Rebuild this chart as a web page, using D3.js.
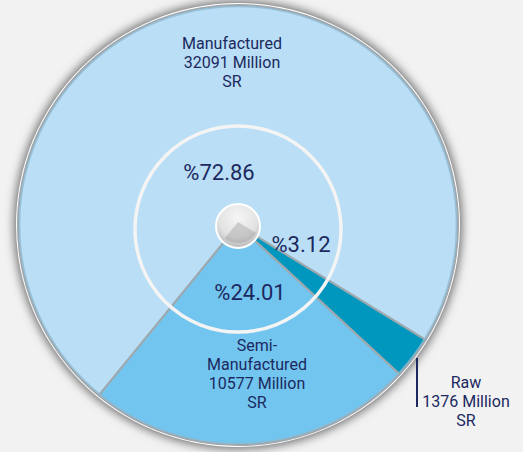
<!DOCTYPE html>
<html>
<head>
<meta charset="utf-8">
<script src="https://cdn.jsdelivr.net/npm/d3@7"></script>
<style>
  html, body { margin: 0; padding: 0; background: #f2f2f2; }
  svg { display: block; }
  text { font-family: Roboto, "Liberation Sans", sans-serif; fill: #1b2960; }
</style>
</head>
<body>
<svg id="chart"></svg>
<script>
"use strict";

const WIDTH = 523;
const HEIGHT = 452;

// data, in million SR
const categories = ["Manufactured", "Raw", "Semi-Manufactured"];
const values = [32091, 1376, 10577];
const percentLabels = ["%72.86", "%3.12", "%24.01"];
const nameLines = [
  ["Manufactured", "32091 Million", "SR"],
  ["Raw", "1376 Million", "SR"],
  ["Semi-", "Manufactured", "10577 Million", "SR"]
];

const COLORS = ["#b9def5", "#0097bf", "#72c5ee"];

const PIE = {
  CX: 238,
  CY: 225,
  R: 220,
  START_DEG: 219.2,
  RING_R: 103,
  HUB_R: 22
};

// label anchors relative to the pie centre
const LABEL_POS = {
  name: [{dx: -6, dy: -176}, {dx: 228, dy: 163}, {dx: 19, dy: 126}],
  pct: [{dx: -19, dy: -45}, {dx: 63, dy: 27}, {dx: 12, dy: 75}]
};
const LINE_H = 19;

const svg = d3.select("#chart").attr("width", WIDTH).attr("height", HEIGHT);
const defs = svg.append("defs");

const blur = defs.append("filter").attr("id", "shadow")
  .attr("x", "-20%").attr("y", "-20%").attr("width", "140%").attr("height", "140%");
blur.append("feGaussianBlur").attr("stdDeviation", 5);

const hubGrad = defs.append("radialGradient").attr("id", "hub")
  .attr("cx", "50%").attr("cy", "30%").attr("r", "75%");
hubGrad.append("stop").attr("offset", "0%").attr("stop-color", "#f6f6f6");
hubGrad.append("stop").attr("offset", "60%").attr("stop-color", "#e2e2e2");
hubGrad.append("stop").attr("offset", "100%").attr("stop-color", "#b0b0b0");

const g = svg.append("g").attr("transform", `translate(${PIE.CX},${PIE.CY})`);

// outer shadow + white rim
g.append("circle").attr("r", PIE.R + 4).attr("fill", "#6e6e6e").attr("filter", "url(#shadow)");
g.append("circle").attr("r", PIE.R + 2).attr("fill", "#ffffff");

const start = PIE.START_DEG * Math.PI / 180;
const pie = d3.pie().sort(null).value(d => d).startAngle(start).endAngle(start + 2 * Math.PI);
const arcs = pie(values);
const arc = d3.arc().innerRadius(0).outerRadius(PIE.R);

g.selectAll("path.slice").data(arcs).join("path")
  .attr("class", "slice")
  .attr("d", arc)
  .attr("fill", (d, i) => COLORS[i])
  .attr("stroke", "#9ea8ae")
  .attr("stroke-width", 2)
  .attr("stroke-linejoin", "round");

// thin darker inner rim
g.append("circle").attr("r", PIE.R - 1.5).attr("fill", "none")
  .attr("stroke", "#8fb9d1").attr("stroke-width", 1.5).attr("opacity", 0.8);

// white ring
g.append("circle").attr("cx", 0).attr("cy", 4).attr("r", PIE.RING_R)
  .attr("fill", "none").attr("stroke", "#f4f4f4").attr("stroke-width", 3.5);

// hub
g.append("circle").attr("cy", 1).attr("r", PIE.HUB_R)
  .attr("fill", "url(#hub)").attr("stroke", "#ffffff").attr("stroke-width", 2);
const hubArc = d3.arc().innerRadius(0).outerRadius(PIE.HUB_R - 1);
g.append("path")
  .attr("d", hubArc({startAngle: arcs[1].startAngle, endAngle: arcs[2].endAngle}))
  .attr("transform", "translate(0,-3)")
  .attr("fill", "#8e8e8e").attr("opacity", 0.35);

// percentage labels
g.selectAll("text.pct").data(percentLabels).join("text")
  .attr("class", "pct")
  .attr("x", (d, i) => LABEL_POS.pct[i].dx)
  .attr("y", (d, i) => LABEL_POS.pct[i].dy)
  .attr("text-anchor", "middle")
  .attr("font-size", 22)
  .text(d => d);

// category labels
nameLines.forEach((lines, i) => {
  const t = g.append("text")
    .attr("text-anchor", "middle")
    .attr("font-size", 16);
  lines.forEach((line, j) => {
    t.append("tspan")
      .attr("x", LABEL_POS.name[i].dx)
      .attr("y", LABEL_POS.name[i].dy + j * LINE_H)
      .text(line);
  });
});

// leader for the Raw slice
g.append("line")
  .attr("x1", 179).attr("x2", 179)
  .attr("y1", 133).attr("y2", 182)
  .attr("stroke", "#1b2960").attr("stroke-width", 2);
</script>
</body>
</html>
